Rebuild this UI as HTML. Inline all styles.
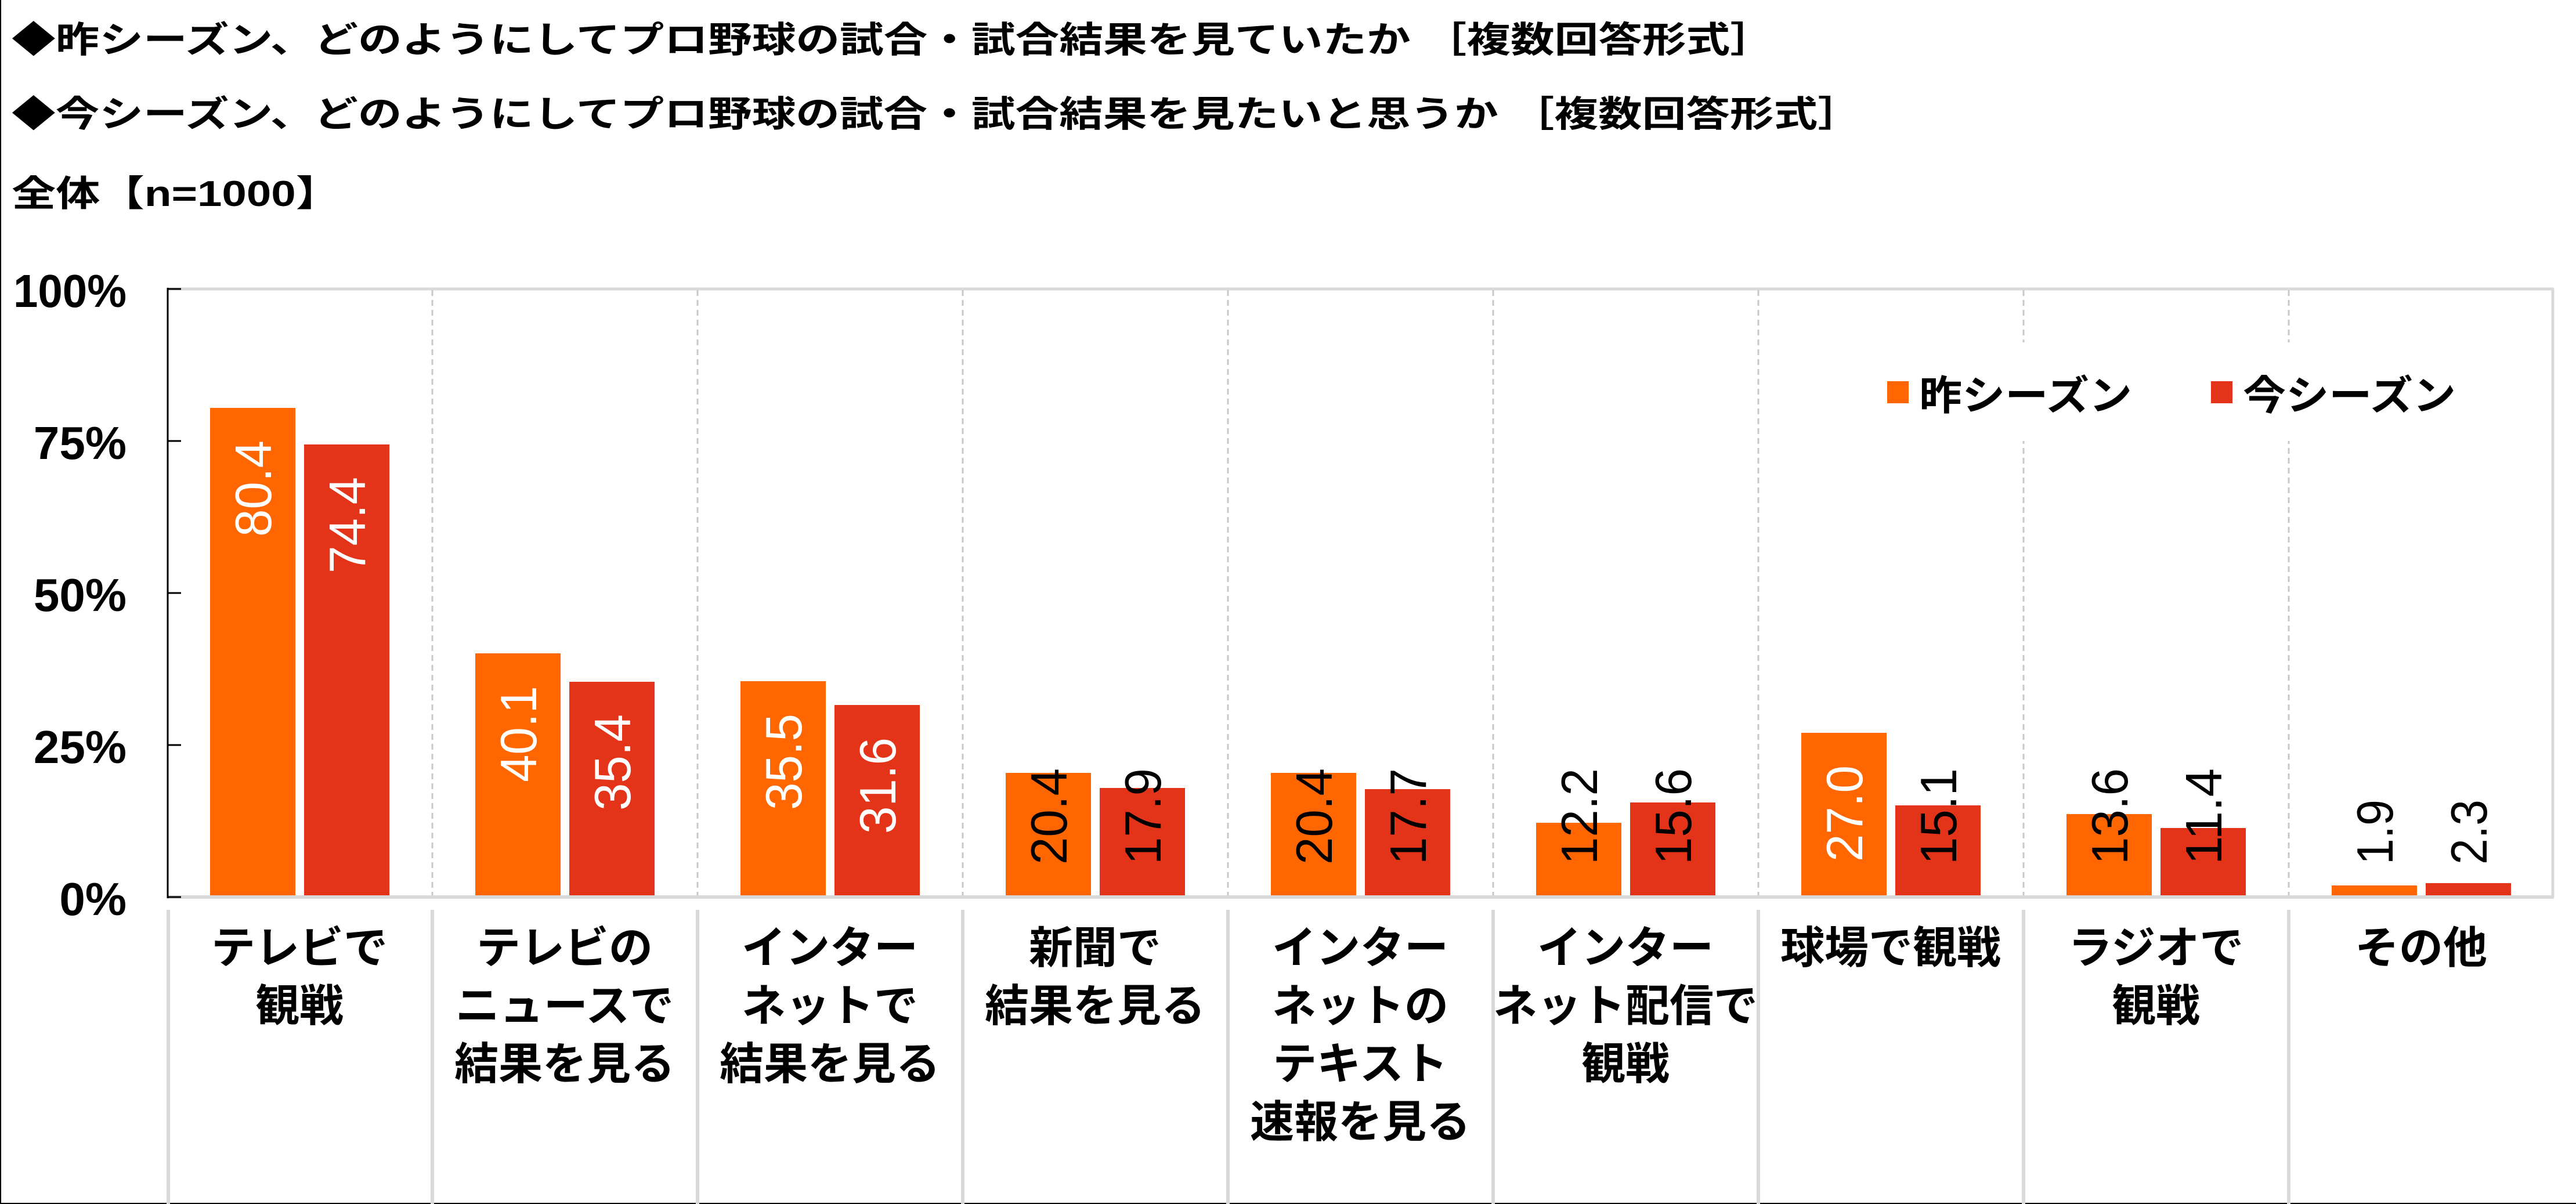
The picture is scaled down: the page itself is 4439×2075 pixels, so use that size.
<!DOCTYPE html>
<html><head><meta charset="utf-8"><style>
html,body{margin:0;padding:0;background:#fff;}
svg{display:block;}
text{font-family:"Liberation Sans","Noto Sans CJK JP",sans-serif;font-weight:bold;}
</style></head><body>
<svg width="4439" height="2075" viewBox="0 0 4439 2075" xmlns="http://www.w3.org/2000/svg">
<rect width="4439" height="2075" fill="#fff"/>
<line x1="1" y1="0" x2="1" y2="2075" stroke="#000" stroke-width="2"/>
<line x1="0" y1="2074" x2="4439" y2="2074" stroke="#000" stroke-width="2"/>
<text x="20" y="90" font-size="62" textLength="3037" lengthAdjust="spacingAndGlyphs">◆昨シーズン、どのようにしてプロ野球の試合・試合結果を見ていたか ［複数回答形式］</text>
<text x="20" y="218" font-size="62" textLength="3188" lengthAdjust="spacingAndGlyphs">◆今シーズン、どのようにしてプロ野球の試合・試合結果を見たいと思うか ［複数回答形式］</text>
<text x="20" y="355" font-size="62" textLength="566" lengthAdjust="spacingAndGlyphs">全体【n=1000】</text>
<line x1="288" y1="498" x2="4401" y2="498" stroke="#d9d9d9" stroke-width="5"/>
<line x1="4399" y1="498" x2="4399" y2="1546" stroke="#d9d9d9" stroke-width="5"/>
<g stroke="#c8c8c8" stroke-width="3" stroke-dasharray="10,7">
<line x1="745" y1="500" x2="745" y2="1546"/><line x1="1202" y1="500" x2="1202" y2="1546"/>
<line x1="1659" y1="500" x2="1659" y2="1546"/><line x1="2116" y1="500" x2="2116" y2="1546"/>
<line x1="2573" y1="500" x2="2573" y2="1546"/><line x1="3030" y1="500" x2="3030" y2="1546"/>
<line x1="3487" y1="500" x2="3487" y2="1546"/><line x1="3944" y1="500" x2="3944" y2="1546"/>
</g>
<g stroke="#d9d9d9" stroke-width="6">
<line x1="290" y1="1568" x2="290" y2="2075"/><line x1="745" y1="1568" x2="745" y2="2075"/><line x1="1202" y1="1568" x2="1202" y2="2075"/>
<line x1="1659" y1="1568" x2="1659" y2="2075"/><line x1="2116" y1="1568" x2="2116" y2="2075"/>
<line x1="2573" y1="1568" x2="2573" y2="2075"/><line x1="3030" y1="1568" x2="3030" y2="2075"/>
<line x1="3487" y1="1568" x2="3487" y2="2075"/><line x1="3944" y1="1568" x2="3944" y2="2075"/>
</g>
<rect x="3230" y="590" width="1040" height="170" fill="#fff"/>
<rect x="3252" y="657" width="37" height="38" fill="#FF6600"/>
<text x="3307" y="706" font-size="70" textLength="367" lengthAdjust="spacingAndGlyphs">昨シーズン</text>
<rect x="3810" y="657" width="37" height="38" fill="#E3341A"/>
<text x="3865" y="706" font-size="70" textLength="367" lengthAdjust="spacingAndGlyphs">今シーズン</text>
<g fill="#FF6600">
<rect x="362" y="703" width="147" height="843"/>
<rect x="819" y="1126" width="147" height="420"/>
<rect x="1276" y="1174" width="147" height="372"/>
<rect x="1733" y="1332" width="147" height="214"/>
<rect x="2190" y="1332" width="147" height="214"/>
<rect x="2647" y="1418" width="147" height="128"/>
<rect x="3104" y="1263" width="147" height="283"/>
<rect x="3561" y="1403" width="147" height="143"/>
<rect x="4018" y="1526" width="147" height="20"/>
</g>
<g fill="#E3341A">
<rect x="524" y="766" width="147" height="780"/>
<rect x="981" y="1175" width="147" height="371"/>
<rect x="1438" y="1215" width="147" height="331"/>
<rect x="1895" y="1358" width="147" height="188"/>
<rect x="2352" y="1360" width="147" height="186"/>
<rect x="2809" y="1383" width="147" height="163"/>
<rect x="3266" y="1388" width="147" height="158"/>
<rect x="3723" y="1427" width="147" height="119"/>
<rect x="4180" y="1522" width="147" height="24"/>
</g>
<line x1="288" y1="1546" x2="4401" y2="1546" stroke="#d9d9d9" stroke-width="6"/>
<line x1="289" y1="496" x2="289" y2="1548" stroke="#000" stroke-width="3"/>
<g stroke="#000" stroke-width="3">
<line x1="289" y1="498" x2="312" y2="498"/><line x1="289" y1="760" x2="312" y2="760"/>
<line x1="289" y1="1022" x2="312" y2="1022"/><line x1="289" y1="1284" x2="312" y2="1284"/>
<line x1="289" y1="1546" x2="312" y2="1546"/>
</g>
<g font-size="80" text-anchor="end">
<text x="218" y="529" textLength="195" lengthAdjust="spacingAndGlyphs">100%</text>
<text x="218" y="791">75%</text>
<text x="218" y="1053">50%</text>
<text x="218" y="1315">25%</text>
<text x="218" y="1577">0%</text>
</g>
<g font-size="88">
<g fill="#fff" text-anchor="end">
<text transform="translate(467,759) rotate(-90)" textLength="166" lengthAdjust="spacingAndGlyphs" style="font-weight:normal">80.4</text>
<text transform="translate(629,822) rotate(-90)" textLength="166" lengthAdjust="spacingAndGlyphs" style="font-weight:normal">74.4</text>
<text transform="translate(924,1182) rotate(-90)" textLength="166" lengthAdjust="spacingAndGlyphs" style="font-weight:normal">40.1</text>
<text transform="translate(1086,1231) rotate(-90)" textLength="166" lengthAdjust="spacingAndGlyphs" style="font-weight:normal">35.4</text>
<text transform="translate(1381,1230) rotate(-90)" textLength="166" lengthAdjust="spacingAndGlyphs" style="font-weight:normal">35.5</text>
<text transform="translate(1543,1271) rotate(-90)" textLength="166" lengthAdjust="spacingAndGlyphs" style="font-weight:normal">31.6</text>
<text transform="translate(3209,1319) rotate(-90)" textLength="166" lengthAdjust="spacingAndGlyphs" style="font-weight:normal">27.0</text>
</g>
<g fill="#000" text-anchor="start">
<text transform="translate(1838,1490) rotate(-90)" textLength="166" lengthAdjust="spacingAndGlyphs" style="font-weight:normal">20.4</text>
<text transform="translate(2000,1490) rotate(-90)" textLength="166" lengthAdjust="spacingAndGlyphs" style="font-weight:normal">17.9</text>
<text transform="translate(2295,1490) rotate(-90)" textLength="166" lengthAdjust="spacingAndGlyphs" style="font-weight:normal">20.4</text>
<text transform="translate(2457,1490) rotate(-90)" textLength="166" lengthAdjust="spacingAndGlyphs" style="font-weight:normal">17.7</text>
<text transform="translate(2752,1490) rotate(-90)" textLength="166" lengthAdjust="spacingAndGlyphs" style="font-weight:normal">12.2</text>
<text transform="translate(2914,1490) rotate(-90)" textLength="166" lengthAdjust="spacingAndGlyphs" style="font-weight:normal">15.6</text>
<text transform="translate(3371,1490) rotate(-90)" textLength="166" lengthAdjust="spacingAndGlyphs" style="font-weight:normal">15.1</text>
<text transform="translate(3666,1490) rotate(-90)" textLength="166" lengthAdjust="spacingAndGlyphs" style="font-weight:normal">13.6</text>
<text transform="translate(3828,1490) rotate(-90)" textLength="166" lengthAdjust="spacingAndGlyphs" style="font-weight:normal">11.4</text>
<text transform="translate(4123,1490) rotate(-90)" textLength="112" lengthAdjust="spacingAndGlyphs" style="font-weight:normal">1.9</text>
<text transform="translate(4285,1490) rotate(-90)" textLength="112" lengthAdjust="spacingAndGlyphs" style="font-weight:normal">2.3</text>
</g>
</g>
<g font-size="76" text-anchor="middle">
<text x="516" y="1660">テレビで</text><text x="516" y="1760">観戦</text>
<text x="973" y="1660">テレビの</text><text x="973" y="1760">ニュースで</text><text x="973" y="1860">結果を見る</text>
<text x="1430" y="1660">インター</text><text x="1430" y="1760">ネットで</text><text x="1430" y="1860">結果を見る</text>
<text x="1887" y="1660">新聞で</text><text x="1887" y="1760">結果を見る</text>
<text x="2344" y="1660">インター</text><text x="2344" y="1760">ネットの</text><text x="2344" y="1860">テキスト</text><text x="2344" y="1960">速報を見る</text>
<text x="2801" y="1660">インター</text><text x="2801" y="1760">ネット配信で</text><text x="2801" y="1860">観戦</text>
<text x="3258" y="1660">球場で観戦</text>
<text x="3715" y="1660">ラジオで</text><text x="3715" y="1760">観戦</text>
<text x="4172" y="1660">その他</text>
</g>
</svg>
</body></html>
